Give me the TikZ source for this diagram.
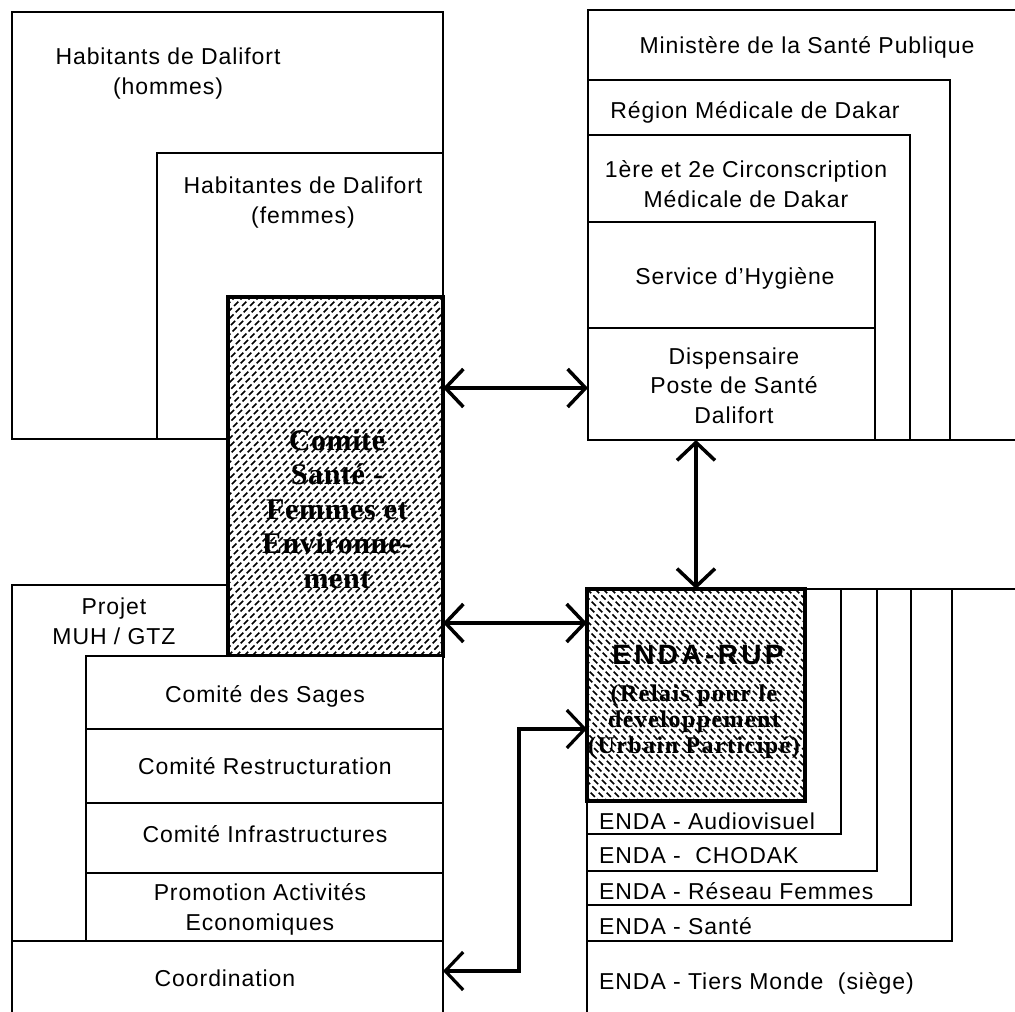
\documentclass[tikz,border=0pt]{standalone}
\usepackage{fontspec}
\setmainfont{Liberation Sans}[LetterSpace=4.0]
\newfontfamily\hserif{Liberation Serif}[LetterSpace=2.0]
\newfontfamily\rupserif{Liberation Serif}[LetterSpace=6.0]
\newfontfamily\rupsans{Liberation Sans}[LetterSpace=12.0]
\usetikzlibrary{arrows.meta}
\begin{document}
\begin{tikzpicture}[x=1pt,y=-1pt,
  box/.style={draw, line width=1.8pt, fill=white, inner sep=0pt, outer sep=0pt, anchor=north west},
  hbox/.style={box, line width=3.5pt},
  hatchNE/.style={path picture={
     \foreach \k in {-400,-392,...,240}
       \draw[line width=1.6pt, dash pattern=on 6pt off 3pt]
         ([xshift=\k pt]path picture bounding box.south west) -- ++(420,-420);}},
  hatchNW/.style={path picture={
     \foreach \k in {-240,-232,...,240}
       \draw[line width=1.6pt, dash pattern=on 6pt off 3pt]
         ([xshift=\k pt]path picture bounding box.north west) -- ++(260,260);}},
  lbl/.style={inner sep=0pt, anchor=base, align=center, font=\fontsize{23}{29.5}\selectfont},
  lbll/.style={inner sep=0pt, anchor=base west, font=\fontsize{23}{29}\selectfont},
  conn/.style={line width=3.5pt,
     {Straight Barb[length=18pt,width=38pt]}-{Straight Barb[length=18pt,width=38pt]}},
  conne/.style={line width=3.2pt, line join=miter,
     {Straight Barb[length=18pt,width=38pt]}-{Straight Barb[length=18pt,width=38pt]}}
]
\useasboundingbox (0,0) rectangle (1015,1012);
\clip (0,0) rectangle (1015,1012);

% ---- left top: habitants
\node[box, minimum width=431pt, minimum height=427pt] (hommes) at (12,12) {};
\node[box, minimum width=286pt, minimum height=286pt] (femmes) at (157,153) {};
% ---- left bottom: projet
\node[box, minimum width=431pt, minimum height=445pt] (projet) at (12,585) {};
% ---- comite (hatched)
\node[hbox, hatchNE, minimum width=215pt, minimum height=359pt] (comite) at (228,297) {};
\node[box, minimum width=357pt, minimum height=73pt] (sages) at (86,656) {};
\node[box, minimum width=357pt, minimum height=74pt] (restr) at (86,729) {};
\node[box, minimum width=357pt, minimum height=70pt] (infra) at (86,803) {};
\node[box, minimum width=357pt, minimum height=68pt] (promo) at (86,873) {};
\node[box, minimum width=431pt, minimum height=89pt] (coord) at (12,941) {};

% ---- right top: ministere
\node[box, minimum width=442pt, minimum height=430pt] (minist) at (588,10) {};
\node[box, minimum width=362pt, minimum height=360pt] (region) at (588,80) {};
\node[box, minimum width=322pt, minimum height=305pt] (circ) at (588,135) {};
\node[box, minimum width=287pt, minimum height=106pt] (hyg) at (588,222) {};
\node[box, minimum width=287pt, minimum height=112pt] (disp) at (588,328) {};

% ---- right bottom: ENDA
\node[box, minimum width=443pt, minimum height=441pt] (tiers) at (587,589) {};
\node[box, minimum width=365pt, minimum height=352pt] (sante) at (587,589) {};
\node[box, minimum width=324pt, minimum height=316pt] (reseau) at (587,589) {};
\node[box, minimum width=290pt, minimum height=282pt] (chodak) at (587,589) {};
\node[box, minimum width=254pt, minimum height=245pt] (audio) at (587,589) {};
\node[hbox, hatchNW, minimum width=218pt, minimum height=212pt] (rup) at (587,589) {};

% ---- labels (multi-line: anchor at baseline of last line)
\node[lbl] (lhommes) at (168,94) {Habitants de Dalifort\\(hommes)};
\node[lbl] (lfemmes) at (303,223) {Habitantes de Dalifort\\(femmes)};
\node[lbl, font=\hserif\bfseries\fontsize{30}{34.5}\selectfont] (lcomite) at (337,588)
  {Comité\\Santé -\\Femmes et\\Environne-\\ment};
\node[lbl] (lprojet) at (114,644) {Projet\\MUH / GTZ};
\node[lbl] (lsages) at (265,702) {Comité des Sages};
\node[lbl] (lrestr) at (265,774) {Comité Restructuration};
\node[lbl] (linfra) at (265,842) {Comité Infrastructures};
\node[lbl] (lpromo) at (260,930) {Promotion Activités\\Economiques};
\node[lbl] (lcoord) at (225,986) {Coordination};

\node[lbl] (lminist) at (807,53) {Ministère de la Santé Publique};
\node[lbl] (lregion) at (755,118) {Région Médicale de Dakar};
\node[lbl] (lcirc) at (746,207) {1ère et 2e Circonscription\\Médicale de Dakar};
\node[lbl] (lhyg) at (735,284) {Service d'Hygiène};
\node[lbl] (ldisp) at (734,423) {Dispensaire\\Poste de Santé\\Dalifort};

\node[lbl, font=\rupsans\bfseries\fontsize{28}{30}\selectfont] (lrup) at (698,664) {ENDA-RUP};
\node[lbl, font=\rupserif\bfseries\fontsize{24}{26}\selectfont] (lrup2) at (694,753)
  {(Relais pour le\\développement\\(Urbain Participé)};
\node[lbll] (laudio) at (599,829) {ENDA - Audiovisuel};
\node[lbll] (lchodak) at (599,863) {ENDA -\ \ CHODAK};
\node[lbll] (lreseau) at (599,899) {ENDA - Réseau Femmes};
\node[lbll] (lsante) at (599,934) {ENDA - Santé};
\node[lbll] (ltiers) at (599,989) {ENDA - Tiers Monde\ \ (siège)};

% ---- connectors
\coordinate (r2) at (500,623);
\coordinate (r3) at (696,500);
\coordinate (e1) at (519,729);
\coordinate (e2) at (519,971);
\draw[conn] ([yshift=-4pt]disp.west -| comite.east) -- ([yshift=-4pt]disp.west);
\draw[conn] (comite.east |- r2) -- (rup.west |- r2);
\draw[conn] (disp.south -| r3) -- (rup.north -| r3);
\draw[conne] (rup.west |- e1) -- (e1) -- (e2) -- (coord.east |- e2);
\end{tikzpicture}
\end{document}
